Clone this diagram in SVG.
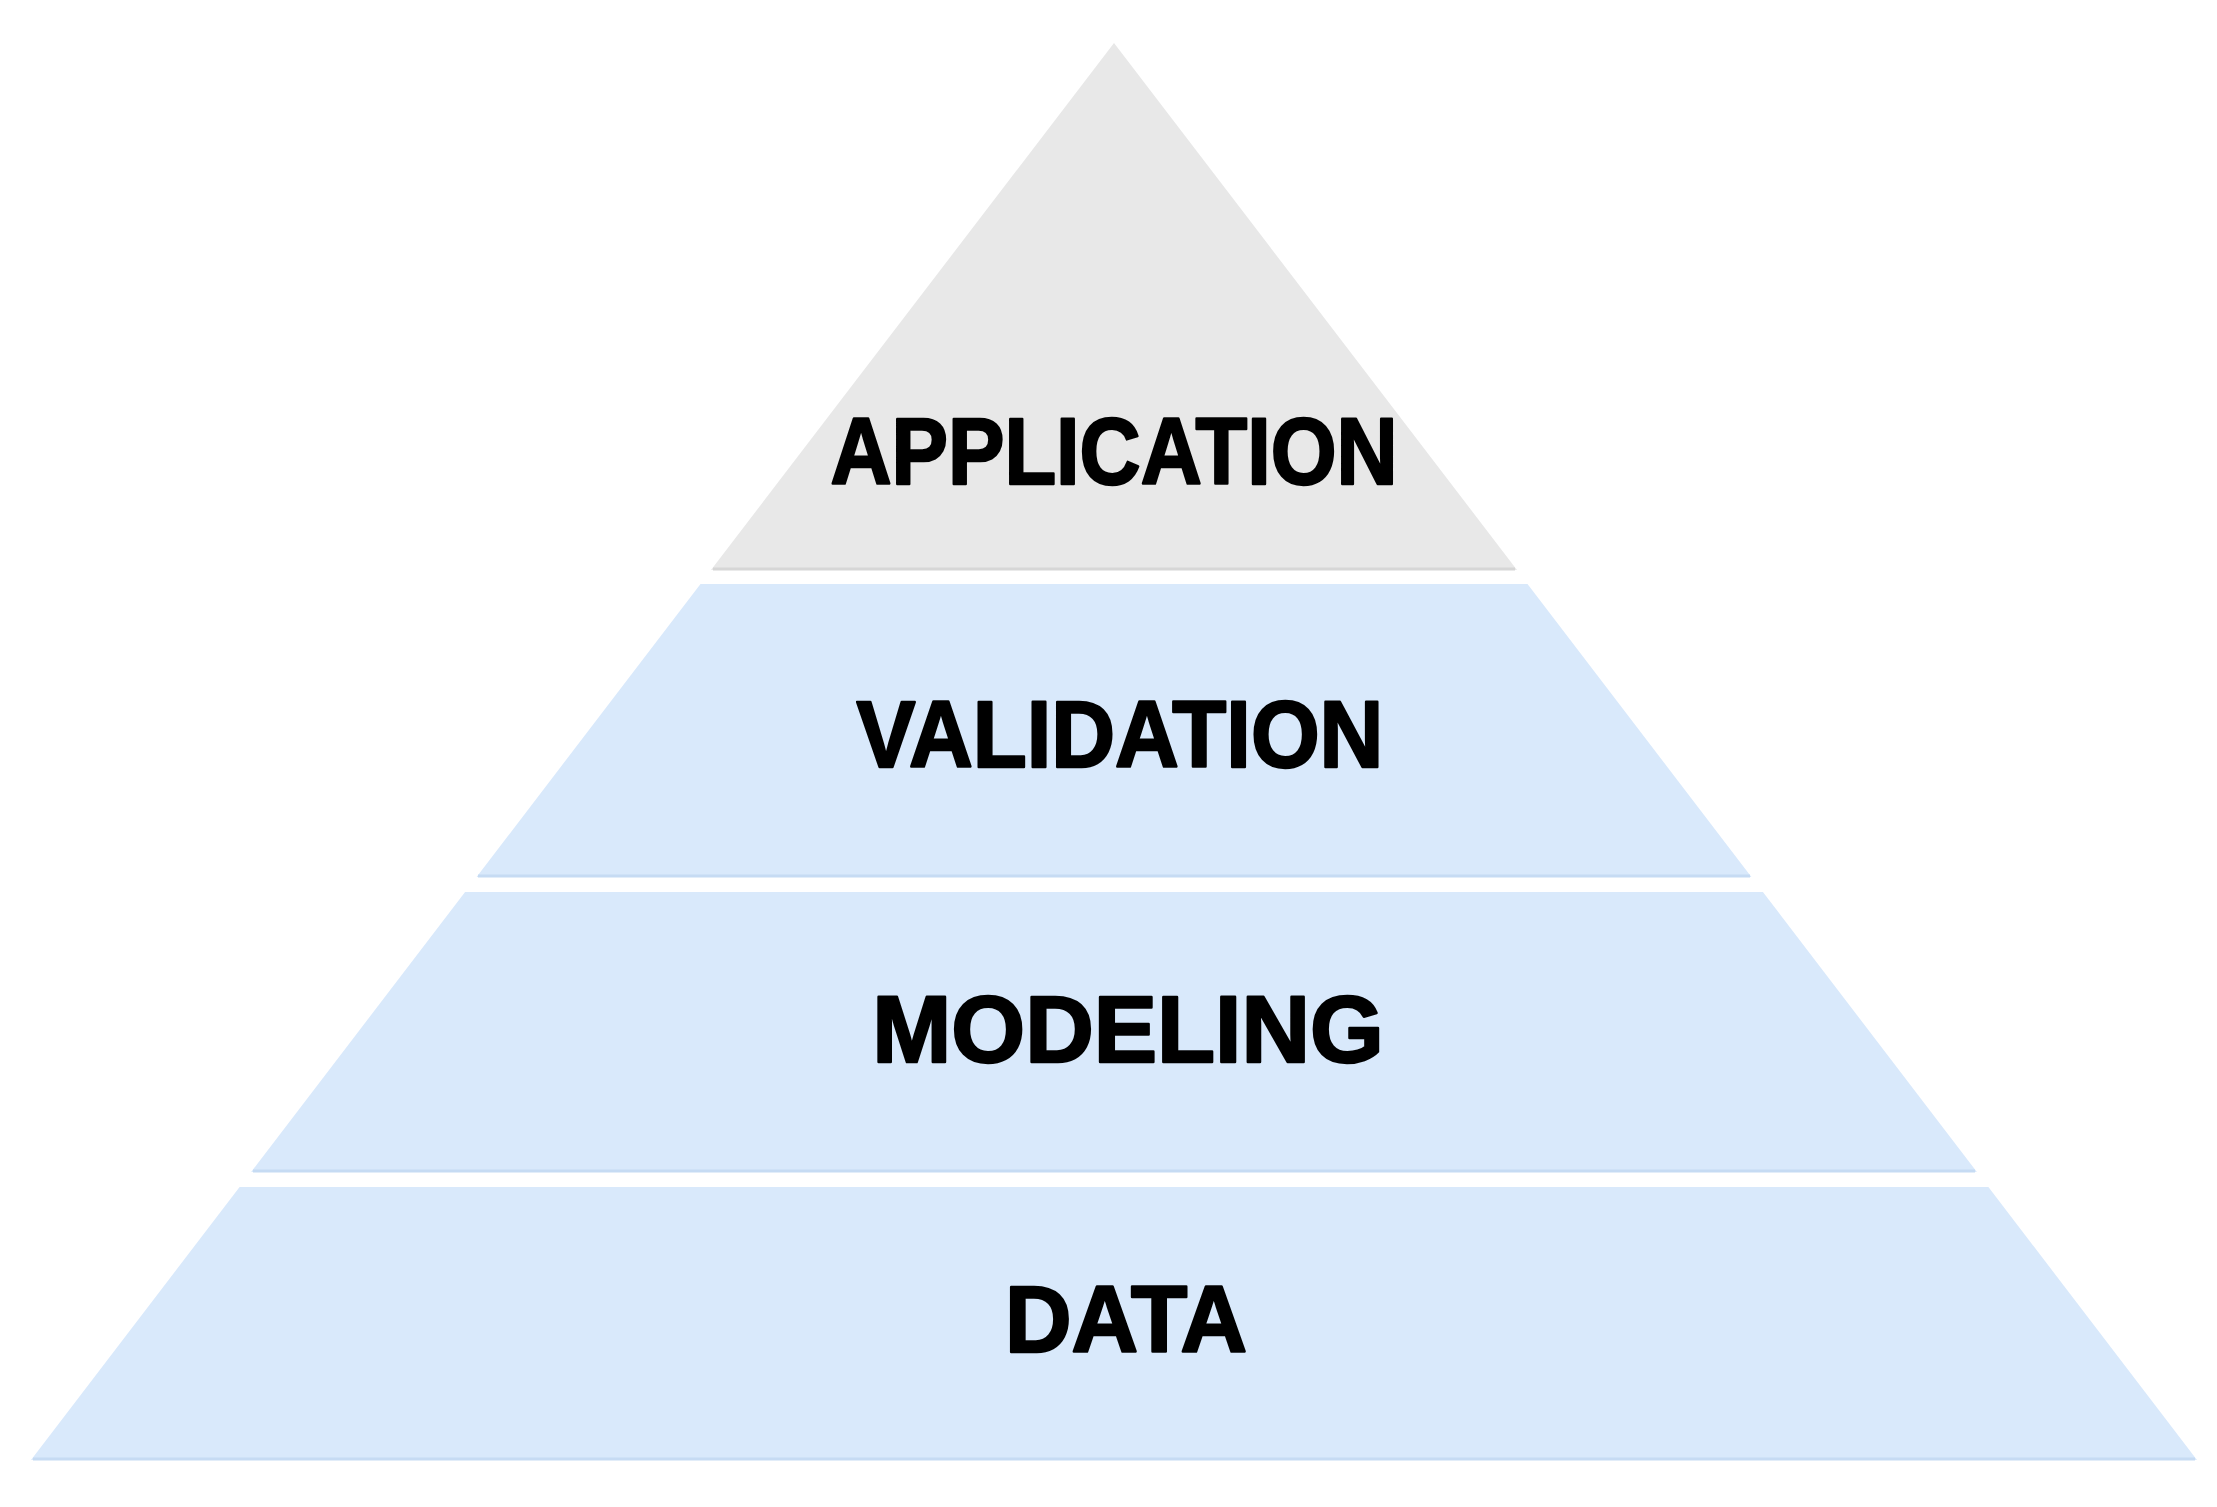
<svg xmlns="http://www.w3.org/2000/svg" width="2217" height="1507" viewBox="0 0 2217 1507">
<style>
.gray{fill:#e8e8e8}
.blue{fill:#d9e9fb}
.edge{stroke:#c6dbf3;stroke-width:3}
.edgeg{stroke:#d6d6d6;stroke-width:3}
.lbl{font-family:"Liberation Sans",Arial,sans-serif;font-weight:bold;font-size:94px;fill:#000;stroke:#000;stroke-width:2.5;stroke-linejoin:round;text-anchor:middle}
</style>
<rect width="2217" height="1507" fill="#ffffff"/>
<g id="application">
<polygon class="gray" points="1114,43 1517,570 711,570"/>
<line class="edgeg" x1="713" y1="569" x2="1515" y2="569"/>
<text class="lbl" transform="translate(1114,484) scale(0.9,1)">APPLICATION</text>
</g>
<g id="validation">
<polygon class="blue" points="700.5,584 1527.5,584 1751.4,877 476.6,877"/>
<line class="edge" x1="478" y1="876" x2="1750" y2="876"/>
<text class="lbl" transform="translate(1120,767) scale(0.94,1)">VALIDATION</text>
</g>
<g id="modeling">
<polygon class="blue" points="465.1,892 1762.9,892 1976.9,1172 251.1,1172"/>
<line class="edge" x1="253" y1="1171" x2="1975" y2="1171"/>
<text class="lbl" transform="translate(1128,1062) scale(1.01,1)">MODELING</text>
</g>
<g id="data">
<polygon class="blue" points="239.6,1187 1988.4,1187 2197,1460 31,1460"/>
<line class="edge" x1="33" y1="1459" x2="2195" y2="1459"/>
<text class="lbl" transform="translate(1126,1352) scale(0.98,1)">DATA</text>
</g>
<g id="connectors"></g>
</svg>
